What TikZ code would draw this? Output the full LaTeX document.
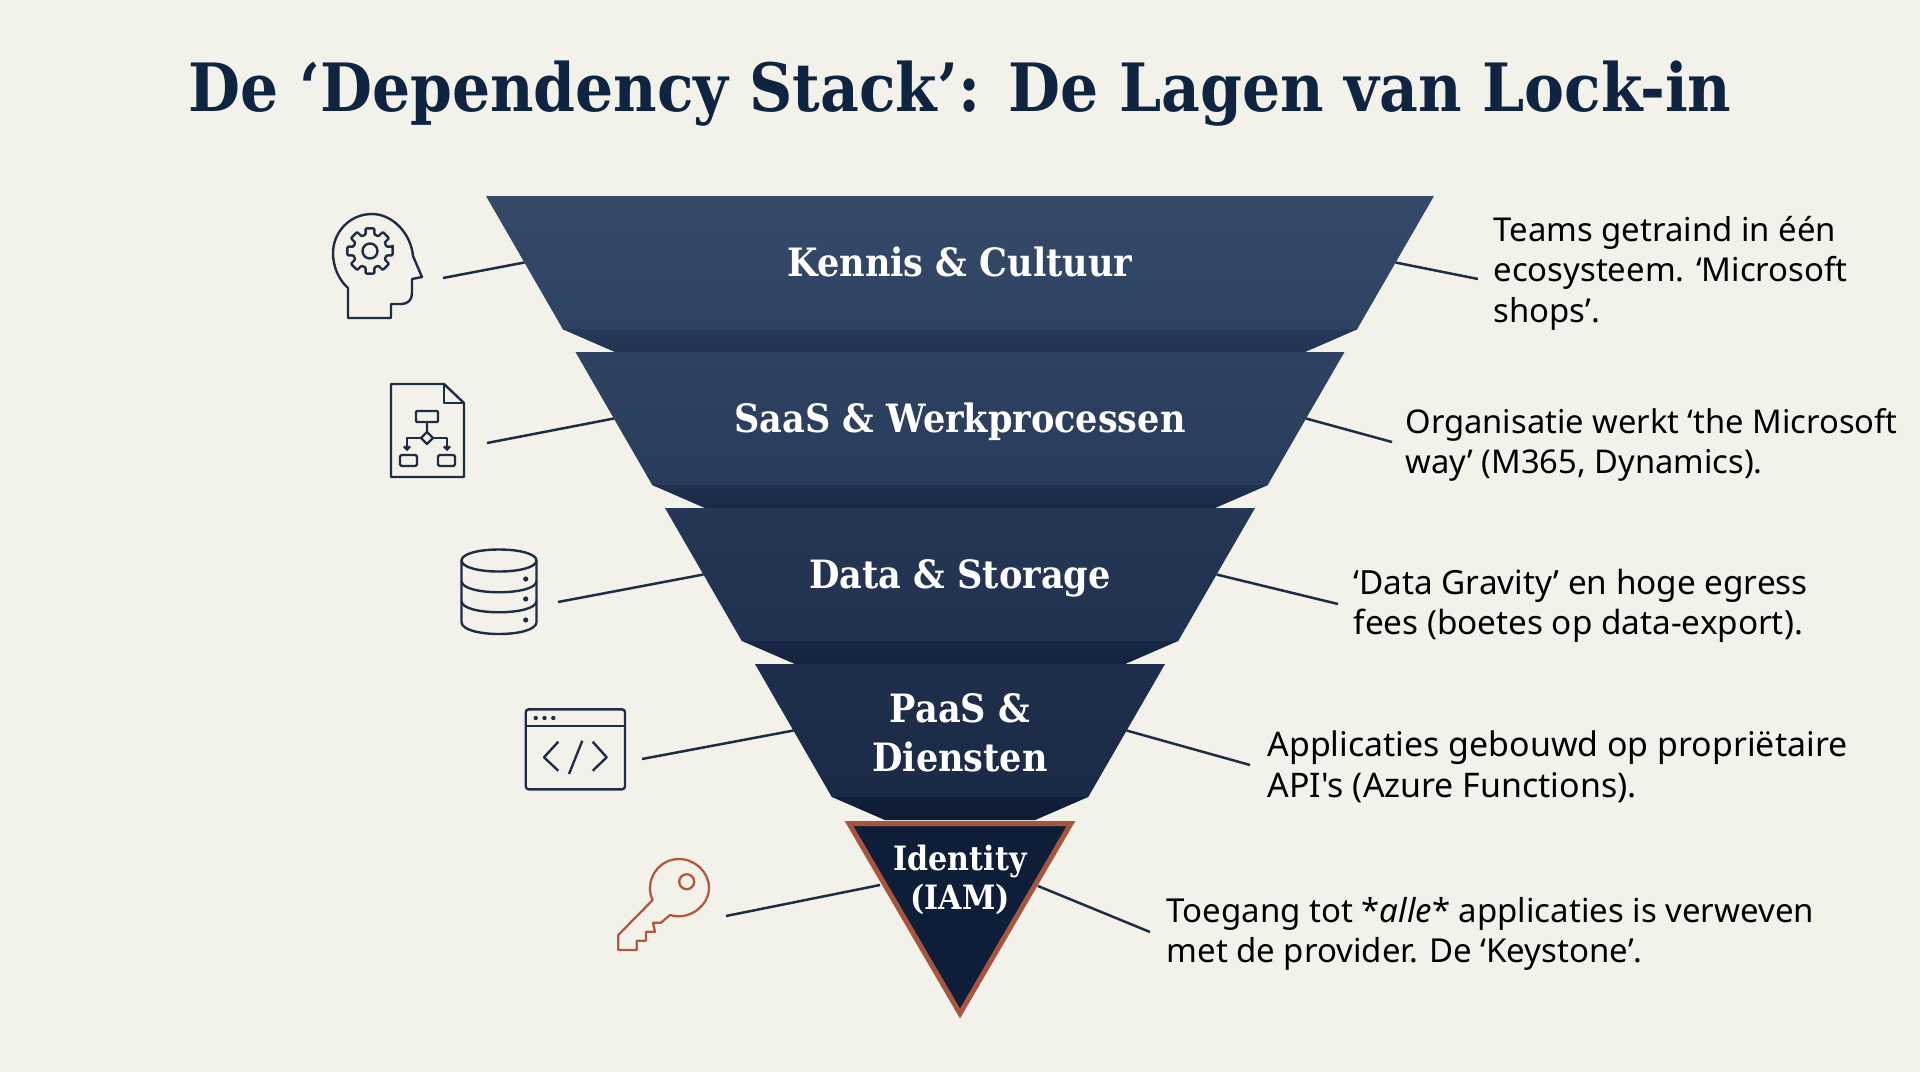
\documentclass[tikz,border=0pt]{standalone}
\usepackage{fontspec}
\usepackage{xcolor}
\usetikzlibrary{shapes.geometric, arrows.meta, positioning}
\setmainfont{Noto Sans}[Ligatures=TeXOff]
\newfontfamily\kopfont{DejaVu Serif Condensed}[BoldFont={DejaVu Serif Condensed Bold}]
\definecolor{papier}{HTML}{F3F2EA}
\definecolor{inkt}{HTML}{1F2D44}
\definecolor{roest}{HTML}{B5573F}
\definecolor{rand}{HTML}{A85540}
\definecolor{titel}{HTML}{0F2440}
\definecolor{ka}{HTML}{354969}
\definecolor{kb}{HTML}{2F4363}
\definecolor{kc}{HTML}{273858}
\definecolor{kd}{HTML}{233352}
\definecolor{sa}{HTML}{2F4262}
\definecolor{sb}{HTML}{293C5C}
\definecolor{sc}{HTML}{1F2F4E}
\definecolor{sd}{HTML}{1A2946}
\definecolor{da}{HTML}{263756}
\definecolor{db}{HTML}{213250}
\definecolor{dc}{HTML}{182744}
\definecolor{dd}{HTML}{14223E}
\definecolor{pa}{HTML}{1E2E4C}
\definecolor{pb}{HTML}{1B2A46}
\definecolor{pc}{HTML}{111F3A}
\definecolor{pd}{HTML}{0E1B34}
\definecolor{ia}{HTML}{0F1E38}

\begin{document}
\begin{tikzpicture}[
    x=1pt, y=-1pt,
    base/.style={shape=trapezium, shape border rotate=180, trapezium stretches body=true, inner sep=0pt, outer sep=0pt, text=white, align=center},
    layer/.style={base, trapezium left angle=60, trapezium right angle=60, text height=80pt, text depth=53pt, font=\kopfont\bfseries\fontsize{39}{49}\selectfont},
    lip/.style={base, trapezium left angle=23.5, trapezium right angle=23.5, text height=23pt, text depth=0pt},
    fade/.style 2 args={top color=#1, bottom color=#2},
    note/.style={anchor=west, align=left, text=black, font=\fontsize{#1}{40.5}\selectfont},
    link/.style={inkt, line width=2.5pt},
    icon/.style={inkt, line width=2.4pt, line join=round},
    keyicon/.style={roest, line width=2.3pt, line join=round}
]

    % --- achtergrond ---
    \fill [papier] (0,0) rectangle (1920,1072);
    \useasboundingbox (0,0) rectangle (1920,1072);

    \node (title) at (960,94) {\kopfont\bfseries\color{titel}\fontsize{66.6}{70}\selectfont De ‘Dependency Stack’: De Lagen van Lock-in};

    % --- lagen ---
    \node [layer, minimum width=948pt, fade={ka}{kb}] (kennis) at (960,262.5) {Kennis \& Cultuur};
    \node [lip, minimum width=796pt, fade={kc}{kd}] (kennislip) [below=0pt of kennis] {\phantom{x}};
    \node [layer, minimum width=769pt, fade={sa}{sb}] (saas) [below=0pt of kennislip] {SaaS \& Werkprocessen};
    \node [lip, minimum width=616pt, fade={sc}{sd}] (saaslip) [below=0pt of saas] {\phantom{x}};
    \node [layer, minimum width=590pt, fade={da}{db}] (data) [below=0pt of saaslip] {Data \& Storage};
    \node [lip, minimum width=436pt, fade={dc}{dd}] (datalip) [below=0pt of data] {\phantom{x}};
    \node [layer, minimum width=410pt, text height=107pt, text depth=26pt, fade={pa}{pb}] (paas) [below=0pt of datalip] {PaaS \&\\ Diensten};
    \node [lip, minimum width=256pt, fade={pc}{pd}] (paaslip) [below=0pt of paas] {\phantom{x}};

    % kern
    \draw [rand, line width=5pt, fill=ia, line join=miter] (849,823.5) -- (1071,823.5) -- (960,1013.5) -- cycle;
    \node [text=white, align=center, font=\kopfont\bfseries\fontsize{33.5}{39.5}\selectfont] (identity) at (960,880) {Identity\\ (IAM)};

    % --- teksten rechts ---
    \node [note=32.9] (notekennis) at (1490,273) {Teams getraind in één\\ ecosysteem. ‘Microsoft\\ shops’.};
    \node [note=32.7] (notesaas) at (1402,445) {Organisatie werkt ‘the Microsoft\\ way’ (M365, Dynamics).};
    \node [note=33.3] (notedata) at (1350,606) {‘Data Gravity’ en hoge egress\\ fees (boetes op data-export).};
    \node [note=33.9] (notepaas) at (1264,767) {Applicaties gebouwd op propriëtaire\\ API's (Azure Functions).};
    \node [note=33] (noteid) at (1163,934) {Toegang tot *\textit{alle}* applicaties is verweven\\ met de provider. De ‘Keystone’.};

    % --- vrije eindpunten ---
    \coordinate (hoofd) at (443,278);
    \coordinate (blad) at (487,443);
    \coordinate (schijf) at (558,602);
    \coordinate (venster) at (642,759);
    \coordinate (sleutel) at (726,916);
    \coordinate (idlinks) at (880,885);
    \coordinate (idrechts) at (1038,886);
    \coordinate (rkennis) at (1478,279);
    \coordinate (rsaas) at (1392,442);
    \coordinate (rdata) at (1338,604);
    \coordinate (rpaas) at (1250,765);
    \coordinate (rid) at (1150,932);

    % --- lijnen ---
    \draw [link] (hoofd) -- (kennis.west);
    \draw [link] (blad) -- (saas.west);
    \draw [link] (schijf) -- (data.west);
    \draw [link] (venster) -- (paas.west);
    \draw [link] (sleutel) -- (idlinks);
    \draw [link] (kennis.east) -- (rkennis);
    \draw [link] (saas.east) -- (rsaas);
    \draw [link] (data.east) -- (rdata);
    \draw [link] (paas.east) -- (rpaas);
    \draw [link] (idrechts) -- (rid);

    % --- iconen ---
    % hoofd met tandwiel
    \draw [icon] (348,318) -- (391,318) -- (391,304) -- (401,304) .. controls (408,304) and (412,300) .. (412,293) -- (412,279) -- (422,277) -- (413,256) .. controls (411,234) and (393,214) .. (372,214) .. controls (349,214) and (333,233) .. (333,253) .. controls (333,267) and (339,280) .. (348,288) -- cycle;
    \draw [icon] (370,251) circle (7.5);
    \begin{scope}[shift={(370,251)}]
        \draw [icon, rounded corners=1pt] (-11:23) \foreach \a in {0,45,...,315} { -- (\a-11:23) -- (\a+11:23) -- (\a+15:17) -- (\a+30:17) } -- cycle;
    \end{scope}

    % document met schema
    \draw [icon] (391,384) -- (444,384) -- (464,403) -- (464,477) -- (391,477) -- cycle;
    \draw [icon] (444,384) -- (444,403) -- (464,403);
    \draw [icon, rounded corners=1pt] (416,411) rectangle (438,422);
    \draw [icon] (427,422) -- (427,432) -- (433,438) -- (427,444) -- (421,438) -- (427,432);
    \draw [icon, -{Straight Barb[length=3pt,width=6pt]}] (421,438) -- (407,438) -- (407,451);
    \draw [icon, -{Straight Barb[length=3pt,width=6pt]}] (433,438) -- (447,438) -- (447,451);
    \draw [icon, rounded corners=1.5pt] (400,455) rectangle (417,466);
    \draw [icon, rounded corners=1.5pt] (438,455) rectangle (455,466);

    % database
    \draw [icon] (499,549.5) .. controls (520,549.5) and (536.5,554) .. (536.5,560.5) .. controls (536.5,567) and (520,571.5) .. (499,571.5) .. controls (478,571.5) and (461.5,567) .. (461.5,560.5) .. controls (461.5,554) and (478,549.5) .. (499,549.5) -- cycle;
    \draw [icon] (461.5,560.5) -- (461.5,622) .. controls (461.5,638) and (536.5,638) .. (536.5,622) -- (536.5,560.5);
    \draw [icon] (461.5,581) .. controls (461.5,596) and (536.5,596) .. (536.5,581);
    \draw [icon] (461.5,601) .. controls (461.5,616) and (536.5,616) .. (536.5,601);
    \foreach \y in {579,599,620} { \fill [inkt] (525.7,\y) circle (2.6); }

    % venster met code
    \draw [icon, rounded corners=3pt] (525.7,709.3) rectangle (625,789.3);
    \draw [icon] (525.7,726) -- (625,726);
    \foreach \x in {535.7,544.5,553.3} { \fill [inkt] (\x,718) circle (2.2); }
    \draw [icon] (558.3,741.7) -- (544,757.3) -- (558.3,770.7);
    \draw [icon] (582.3,740.7) -- (569,774);
    \draw [icon] (592.7,741.7) -- (606.7,757.3) -- (592.7,770.7);

    % sleutel
    \draw [keyicon] (670,915) .. controls (690,921) and (709,905) .. (709,888) .. controls (709,872) and (695,859) .. (679,859) .. controls (662,859) and (650,873) .. (650,888) .. controls (650,893) and (651,897) .. (652.7,900) -- (618.3,935) -- (618.3,950) -- (636.7,950) -- (636.7,940.7) -- (646,940.7) -- (646,931.7) -- (655,931.7) -- (653,922.7) -- (661,922.7) -- cycle;
    \draw [keyicon] (686.7,881.7) circle (7.5);

\end{tikzpicture}
\end{document}
